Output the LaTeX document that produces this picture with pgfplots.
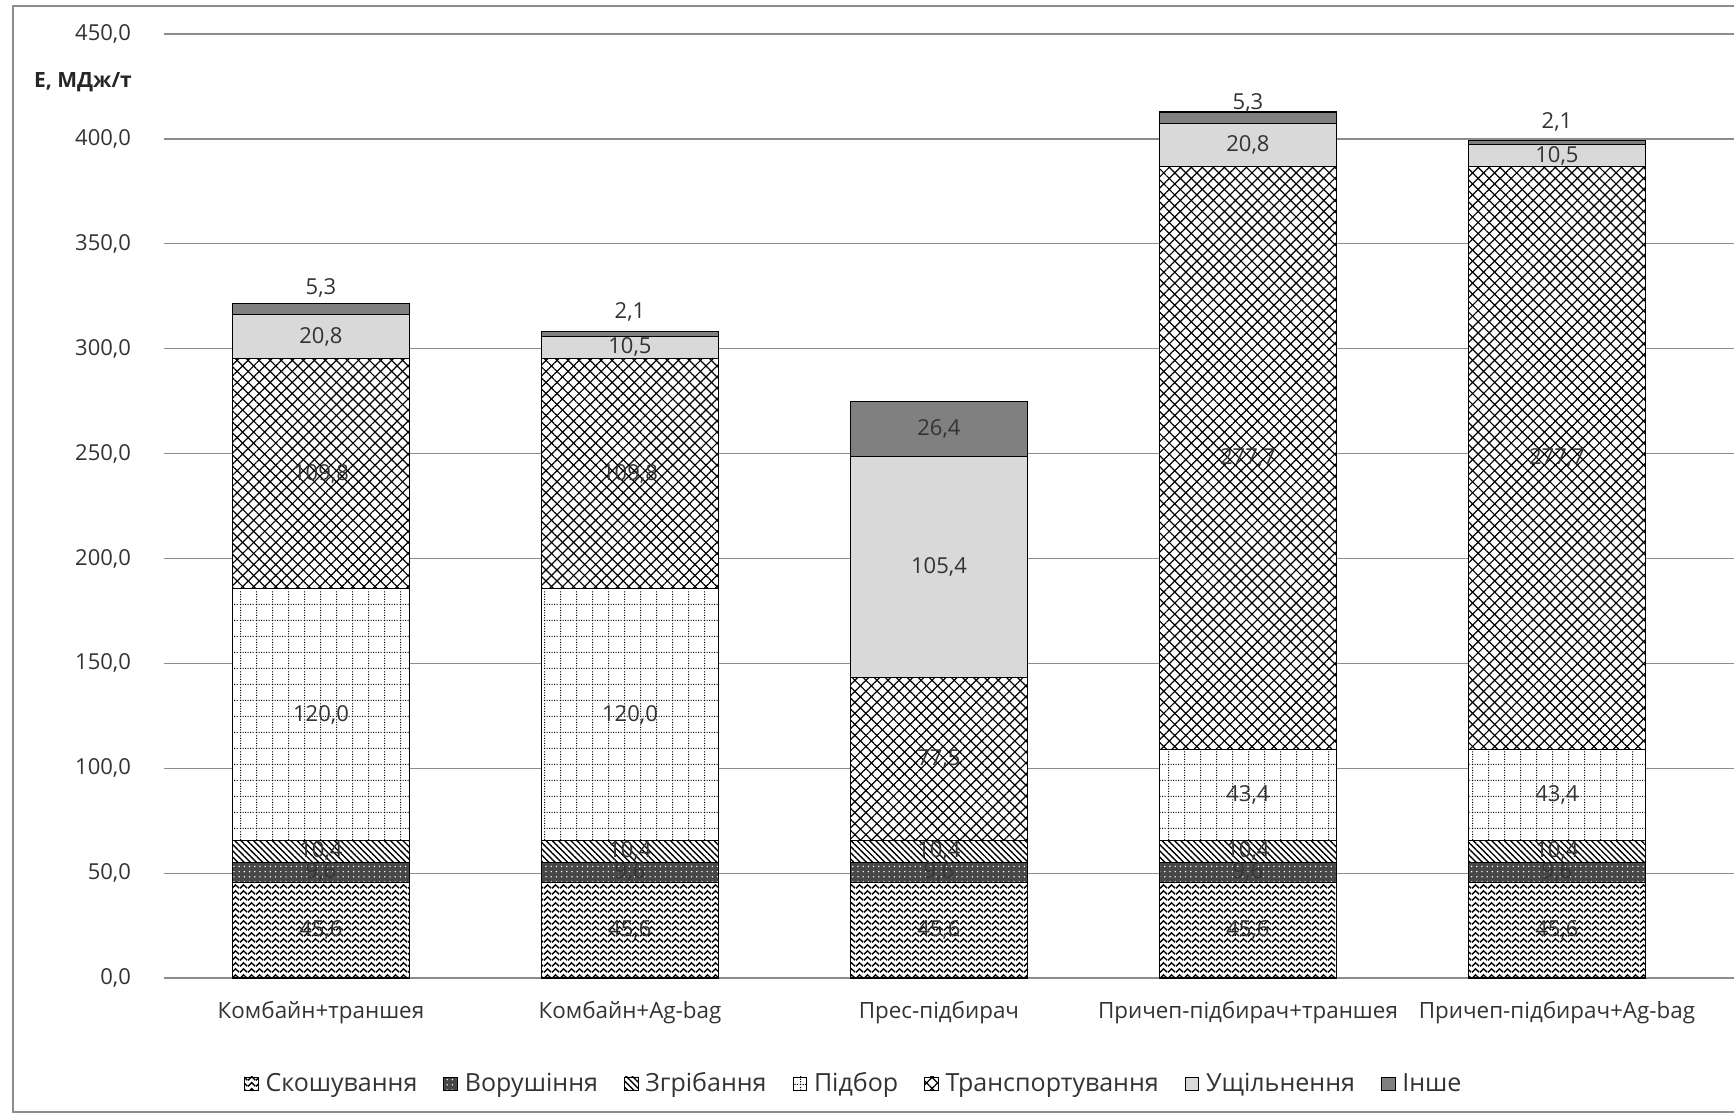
\documentclass[border=0pt]{standalone}
\usepackage{pgfplots}
\pgfplotsset{compat=1.18}
\usepackage{fontspec}
\setmainfont{Open Sans}
\usetikzlibrary{patterns,patterns.meta}

\tikzdeclarepattern{
  name=weave, type=uncolored,
  bottom left={(0pt,0pt)}, top right={(4pt,3pt)}, tile size={(4pt,3pt)},
  code={\draw[line width=0.8pt] (0pt,0.4pt) -- (2pt,2.4pt) -- (4pt,0.4pt);}
}
\tikzdeclarepattern{
  name=dotgrid, type=uncolored,
  bottom left={(0pt,0pt)}, top right={(8pt,8pt)}, tile size={(8pt,8pt)},
  code={\draw[line width=0.6pt, dash pattern=on 0.6pt off 0.733pt] (0pt,0.3pt) -- (8pt,0.3pt);
        \draw[line width=0.6pt, dash pattern=on 0.6pt off 0.733pt] (0.3pt,0pt) -- (0.3pt,8pt);}
}

\definecolor{ushch}{HTML}{D9D9D9}
\definecolor{inshe}{HTML}{808080}
\definecolor{gridc}{HTML}{8C8C8C}

\pgfplotsset{
  mylegend/.style={legend image code/.code={\draw[##1, line width=0.4pt] (0pt,-3.4pt) rectangle (6.8pt,3.4pt);}},
  barbase/.style={draw=black, line width=0.6pt, mylegend},
}

\begin{document}
\begin{tikzpicture}
\begin{axis}[
  name=ax, at={(0,0)}, anchor=south west,
  scale only axis, width=785pt, height=472pt,
  ybar stacked, bar width=0.572,
  xmin=-0.508, xmax=4.573, ymin=0, ymax=450,
  ytick={0,50,...,450},
  xtick={0,1,2,3,4},
  xticklabels={Комбайн+траншея, Комбайн+Ag-bag, Прес-підбирач, Причеп-підбирач+траншея, Причеп-підбирач+Ag-bag},
  ymajorgrids, grid style={gridc, line width=0.6pt},
  axis line style={draw=none}, major tick length=0pt,
  yticklabel style={/pgf/number format/use comma, /pgf/number format/fixed, /pgf/number format/fixed zerofill, /pgf/number format/precision=1, /pgf/number format/assume math mode=true, font=\fontsize{11}{13}\selectfont, text=black!80, xshift=-13pt},
  xticklabel style={font=\fontsize{11.2}{13}\selectfont, text=black!80, yshift=-8pt},
  legend style={at={(axis description cs:0.44,-0.112)}, anchor=center, draw=none, legend columns=-1,
    font=\fontsize{12.5}{14}\selectfont, text=black!80,
    /tikz/every even column/.append style={column sep=11pt},
    /tikz/every odd column/.append style={column sep=1.5pt}},
]
\addplot[barbase, fill=white, postaction={pattern=weave}] coordinates {(0,45.6) (1,45.6) (2,45.6) (3,45.6) (4,45.6)};
\addplot[barbase, fill=black!72, postaction={pattern={Dots[distance=2.6pt, radius=0.4pt]}, pattern color=white}] coordinates {(0,9.6) (1,9.6) (2,9.6) (3,9.6) (4,9.6)};
\addplot[barbase, fill=white, postaction={pattern={Lines[angle=-45, distance=2.2pt, line width=0.7pt]}}] coordinates {(0,10.4) (1,10.4) (2,10.4) (3,10.4) (4,10.4)};
\addplot[barbase, fill=white, postaction={pattern=dotgrid}] coordinates {(0,120.0) (1,120.0) (2,0) (3,43.4) (4,43.4)};
\addplot[barbase, fill=white, postaction={pattern={Lines[angle=45, distance=3.9pt, line width=0.6pt]}}, postaction={pattern={Lines[angle=-45, distance=3.9pt, line width=0.6pt]}}] coordinates {(0,109.8) (1,109.8) (2,77.5) (3,277.7) (4,277.7)};
\addplot[barbase, fill=ushch] coordinates {(0,20.8) (1,10.5) (2,105.4) (3,20.8) (4,10.5)};
\addplot[barbase, fill=inshe] coordinates {(0,5.3) (1,2.1) (2,26.4) (3,5.3) (4,2.1)};
\legend{Скошування, Ворушіння, Згрібання, Підбор, Транспортування, Ущільнення, Інше}
\end{axis}

\begin{axis}[
  at={(0,0)}, anchor=south west,
  scale only axis, width=785pt, height=472pt,
  xmin=-0.508, xmax=4.573, ymin=0, ymax=450,
  hide axis, clip=false,
]
\addplot[draw=none, mark=none, nodes near coords, point meta=explicit symbolic,
  nodes near coords align=center,
  every node near coord/.append style={font=\fontsize{11}{13}\selectfont, text=black!80, inner sep=0pt}]
  table[meta=lab] {
x y lab
0 22.8 45,6
0 50.4 9,6
0 60.8 10,4
0 125.6 120,0
0 240.5 109,8
0 305.8 20,8
0 329.0 5,3
1 22.8 45,6
1 50.4 9,6
1 60.8 10,4
1 125.6 120,0
1 240.5 109,8
1 300.65 10,5
1 317.5 2,1
2 22.8 45,6
2 50.4 9,6
2 60.8 10,4
2 104.35 77,5
2 195.8 105,4
2 261.7 26,4
3 22.8 45,6
3 50.4 9,6
3 60.8 10,4
3 87.3 43,4
3 247.85 277,7
3 397.1 20,8
3 417.3 5,3
4 22.8 45,6
4 50.4 9,6
4 60.8 10,4
4 87.3 43,4
4 247.85 277,7
4 391.95 10,5
4 408.3 2,1
};
\end{axis}

\node[anchor=west, font=\bfseries\fontsize{10.5}{13}\selectfont, text=black!85] at ([xshift=-68.5pt, yshift=448pt]ax.south west) {Е, МДж/т};
\draw[gridc, line width=0.6pt] ([shift={(-75.5pt,-67pt)}]ax.south west) rectangle ([shift={(3pt,486pt)}]ax.south east);
\pgfresetboundingbox
\path ([shift={(-82pt,-69pt)}]ax.south west) rectangle ([shift={(0pt,489pt)}]ax.south east);
\end{tikzpicture}
\end{document}
